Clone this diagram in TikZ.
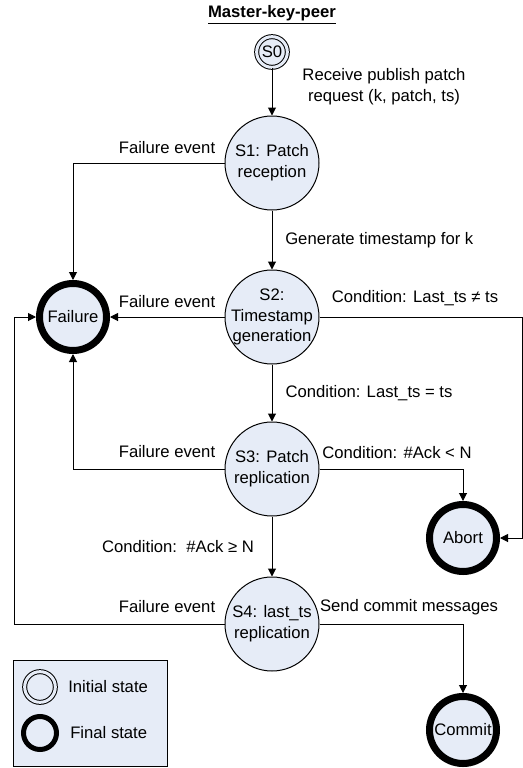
\documentclass[tikz,border=0pt]{standalone}
\usepackage{fontspec}
\setmainfont{Liberation Sans}
\usetikzlibrary{arrows.meta}
\definecolor{stateblue}{RGB}{230,236,247}

\begin{document}
\begin{tikzpicture}[x=0.75pt, y=-0.75pt,
  every node/.style={font=\fontsize{12.5}{15.5}\selectfont},
  state/.style={circle, draw, line width=0.75pt, fill=stateblue, minimum size=70.5pt, inner sep=-4pt, align=center},
  start/.style={circle, draw, line width=0.75pt, double=stateblue, double distance=2.25pt, fill=stateblue, minimum size=23pt, inner sep=0pt},
  final/.style={circle, draw, line width=5.25pt, fill=stateblue, minimum size=50.25pt, inner sep=0pt},
  flow/.style={->, >={Triangle[length=6pt, width=6pt]}, line width=0.75pt},
  lbl/.style={inner sep=0pt, align=center}]
\useasboundingbox (0,0) rectangle (523,768);
% Column of the states
\pgfmathsetmacro{\xs}{272}

\node (title) at (\xs,15) {\bfseries\underline{Master-key-peer}};

% States
\node[start] (s0) at (\xs,52) {S0};
\node[state] (s1) at (\xs,163) {S1: Patch\\reception};
\node[state] (s2) at (\xs,317) {S2:\\Timestamp\\generation};
\node[state] (s3) at (\xs,469) {S3: Patch\\replication};
\node[state] (s4) at (\xs,624) {S4: last\_ts\\replication};
\node[final] (fail) at (73,317) {Failure};
\node[final] (abort) at (463,538) {Abort};
\node[final] (commit) at (463,730) {Commit};

% Corners of the long connectors
\coordinate (lft) at (14,317);
\coordinate (rgt) at (522,538);

% Transitions
\draw[flow] (s0) -- (s1);
\draw[flow] (s1) -- (s2);
\draw[flow] (s2) -- (s3);
\draw[flow] (s3) -- (s4);
\draw[flow] (s1.west) -| (fail.north);
\draw[flow] (s2.west) -- (fail.east);
\draw[flow] (s3.west) -| (fail.south);
\draw[flow] (s4.west) -| (lft) -- (fail.west);
\draw[flow] (s2.east) -| (rgt) -- (abort.east);
\draw[flow] (s3.east) -| (abort.north);
\draw[flow] (s4.east) -| (commit.north);

% Labels
\node[lbl] (lrecv) at (384,87) {Receive publish patch\\request (k, patch, ts)};
\node[lbl] (lfail1) at (167,148) {Failure event};
\node[lbl, anchor=west] (lgen) at (285,240) {Generate timestamp for k};
\node[lbl] (lfail2) at (167,302) {Failure event};
\node[lbl] (lneq) at (415,298) {Condition: Last\_ts ≠ ts};
\node[lbl] (leq) at (369,393) {Condition: Last\_ts = ts};
\node[lbl] (lfail3) at (167,452) {Failure event};
\node[lbl] (llt) at (397,453) {Condition: \#Ack < N};
\node[lbl] (lgeq) at (178,547) {Condition:\ \ \#Ack ≥ N};
\node[lbl] (lfail4) at (167,607) {Failure event};
\node[lbl] (lsend) at (409,607) {Send commit messages};

% Legend
\draw[line width=0.75pt, fill=stateblue] (13,660) rectangle (167,766);
\node[start, minimum size=23pt] (leginit) at (40,687) {};
\node[final, line width=3.75pt, minimum size=24.75pt] (legfinal) at (40,733) {};
\node[lbl, anchor=west] (linit) at (68,687) {Initial state};
\node[lbl, anchor=west] (lfinal) at (70,733) {Final state};
\end{tikzpicture}
\end{document}
